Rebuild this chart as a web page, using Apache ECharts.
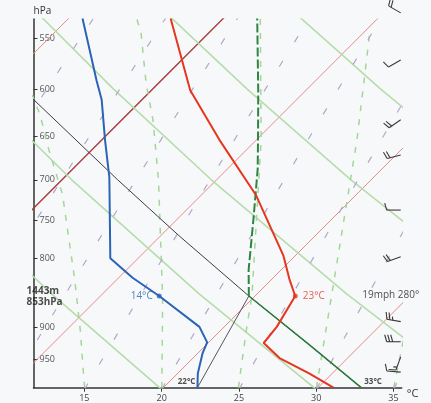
<!DOCTYPE html>
<html><head><meta charset="utf-8">
<script src="https://cdn.jsdelivr.net/npm/echarts@6/dist/echarts.min.js"></script>
<style>html,body{margin:0;padding:0;background:#fff}#c{width:431px;height:403px}</style>
</head><body><div id="c"></div>
<script>
// ---------- data (temperatures in °C, pressures in hPa) ----------
const tempTicks = [15, 20, 25, 30, 35];
const presTicks = [550, 600, 650, 700, 750, 800, 900, 950];

const tempP = [532, 601, 654, 718, 796, 830, 853, 899, 924, 948, 973, 997];
const tempT = [-3.4, 2.5, 7.6, 13.5, 19.2, 21.2, 22.6, 23.4, 23.6, 25.6, 28.5, 31.0];

const dewP = [532, 591, 611, 654, 697, 800, 827, 853, 899, 923, 940, 973, 997];
const dewT = [-9.1, -4.2, -2.6, 0.2, 2.9, 8.2, 10.9, 13.8, 18.4, 19.9, 20.3, 21.3, 22.2];

const isoT = [-10, 0, 10, 20, 30];
const refP = [1000, 850, 700, 600, 530];
const dryT = [
  [20, 6.7, -8.4, -19.8, -28.6],
  [30, 16.25, 0.63, -11.17, -20.29],
  [40, 25.79, 9.66, -2.52, -11.95],
  [50, 35.34, 18.69, 6.12, -3.61],
  [60, 44.88, 27.72, 14.76, 4.74]
];
const mixTd = [
  [0, -2.22, -4.82, -6.84, -8.45],
  [5, 2.69, -0.02, -2.12, -3.79],
  [10, 7.60, 4.78, 2.59, 0.86],
  [15, 12.50, 9.58, 7.30, 5.50],
  [20, 17.40, 14.37, 12.01, 10.14],
  [25, 22.30, 19.15, 16.71, 14.77],
  [30, 27.20, 23.94, 21.40, 19.39],
  [35, 32.10, 28.72, 26.09, 24.01]
];
const moist15P = [997, 904, 830, 718, 665, 627, 606];
const moist15T = [14.9, 10.9, 7.3, 1.0, -2.8, -5.6, -7.4];
const moist20P = [997, 857, 701, 632, 594, 545, 532];
const moist20T = [19.9, 14.2, 6.3, 2.0, -0.8, -4.4, -5.6];
const moist25P = [997, 900, 853, 750, 654, 532];
const moist25T = [24.85, 21.5, 19.8, 15.2, 10.3, 2.4];
const moist30P = [997, 849, 654, 545];
const moist30T = [29.9, 24.8, 16.5, 10.4];
const moist35P = [997, 900, 800];
const moist35T = [34.9, 31.8, 28.3];

const parcelAdiabatP = [997, 925, 853, 770, 700, 600];
const parcelAdiabatT = [32.8, 26.5, 19.6, 11.2, 3.6, -8.4];
const parcelDryP = [997, 925, 853];
const parcelDryT = [32.8, 26.5, 19.6];
const parcelMoistP = [853, 816, 750, 688, 654, 601, 532];
const parcelMoistT = [19.6, 17.9, 15.0, 12.0, 10.1, 6.9, 2.2];
const dewMixP = [997, 853];
const dewMixT = [22.2, 19.6];

const lclP = 853, lclHeight = 1443;
const surfaceWindSpeed = 19, surfaceWindDir = 280;

const windP = [527, 571, 632, 671, 737, 798, 891, 922, 946, 971];
const windDir = [300, 240, 235, 255, 270, 250, 280, 270, 200, 275];
const windSpd = [20, 10, 20, 20, 10, 20, 25, 30, 15, 10];

// ---------- skew-T mapping ----------
const K = 38;                 // skew (°C per unit of ln p)
const X_MIN = 11.71, X_MAX = 35.53;
const P_TOP = 532.5, P_BOT = 997;
const FONT = 'Open Sans';
function sx(T, p) { return T + K * Math.log(1000 / p); }
function pts(Ts, Ps) { return Ts.map((t, i) => [sx(t, Ps[i]), Ps[i]]); }
function ln(data, color, width, type, z) {
  return { type: 'line', data, symbol: 'none', showSymbol: false, silent: true, clip: true,
    animation: false, z: z || 2, lineStyle: { color, width, type: type || 'solid', cap: 'butt' } };
}
function valAt(Ts, Ps, p) { return Ts[Ps.indexOf(p)]; }

const series = [];
isoT.forEach(T => series.push(ln(pts([T, T], [1000, 520]), T === 0 ? '#a63a36' : '#e58a84', T === 0 ? 1.4 : 1, 'solid', 1)));
dryT.forEach(row => series.push(ln(pts(row, refP), '#b7dcac', 1.6, 'solid', 1)));
[[moist15T, moist15P], [moist20T, moist20P], [moist25T, moist25P], [moist30T, moist30P], [moist35T, moist35P]]
  .forEach(([T, P]) => series.push(ln(pts(T, P), '#a3d699', 1.5, [6, 8], 1)));
mixTd.forEach(row => series.push(ln(pts(row, refP), '#b3a6c8', 1.2, [7, 22], 1)));
series.push(ln(pts(parcelAdiabatT, parcelAdiabatP), '#3c3c3c', 1, 'solid', 3));
series.push(ln(pts(dewMixT, dewMixP), '#555555', 1, 'solid', 3));
series.push(ln(pts(parcelDryT, parcelDryP), '#2d7a3a', 1.5, 'solid', 4));
series.push(ln(pts(parcelMoistT, parcelMoistP), '#2e8540', 2, [9, 3], 4));
series.push(ln(pts(tempT, tempP), '#e5371f', 2, 'solid', 5));
series.push(ln(pts(dewT, dewP), '#2a64b4', 2, 'solid', 5));

const tLcl = valAt(tempT, tempP, lclP), dLcl = valAt(dewT, dewP, lclP);
series.push({
  type: 'scatter', silent: true, animation: false, z: 6, symbolSize: 5,
  data: [
    { value: [sx(dLcl, lclP), lclP], itemStyle: { color: '#2a64b4' },
      label: { show: true, position: 'left', distance: 4, formatter: Math.round(dLcl) + '°C', color: '#2a64b4' } },
    { value: [sx(tLcl, lclP), lclP], itemStyle: { color: '#e5371f' },
      label: { show: true, position: 'right', distance: 5, formatter: Math.round(tLcl) + '°C', color: '#e5371f' } }
  ],
  label: { fontFamily: FONT, fontSize: 10 }
});
const dSurf = dewT[dewT.length - 1], pSurf = dewP[dewP.length - 1];
const tParcel = parcelDryT[0];
series.push({
  type: 'scatter', silent: true, animation: false, z: 7, symbolSize: 0, clip: false,
  data: [
    { value: [X_MIN, lclP], label: { show: true, position: 'inside', align: 'left', offset: [-7, 0.5],
        formatter: lclHeight + 'm\n' + lclP + 'hPa', fontWeight: 'bold', fontSize: 10, lineHeight: 11, color: '#222' } },
    { value: [X_MAX, lclP], label: { show: true, position: 'inside', align: 'center', offset: [-11, -1],
        formatter: surfaceWindSpeed + 'mph ' + surfaceWindDir + '°', fontSize: 10, color: '#222' } },
    { value: [sx(dSurf, pSurf), pSurf], label: { show: true, position: 'inside', align: 'right', offset: [-2, -6],
        formatter: Math.round(dSurf) + '°C', fontSize: 8, fontWeight: 'bold', color: '#222' } },
    { value: [sx(tParcel, pSurf), pSurf], label: { show: true, position: 'inside', align: 'left', offset: [3, -6],
        formatter: Math.round(tParcel) + '°C', fontSize: 8, fontWeight: 'bold', color: '#222' } }
  ],
  label: { fontFamily: FONT }
});

// wind barbs
series.push({
  type: 'custom', silent: true, animation: false, clip: false, z: 6,
  data: windP.map((p, i) => [X_MAX, p, windDir[i], windSpd[i]]),
  encode: { x: 0, y: 1 },
  renderItem(params, api) {
    const c = api.coord([api.value(0), api.value(1)]);
    const d = api.value(2) * Math.PI / 180, s = api.value(3);
    const x0 = c[0] - 1, y0 = c[1];
    const L = 14, F = 7, G = 3;
    const ux = Math.sin(d), uy = -Math.cos(d);
    const vx = -uy, vy = ux;
    const ex = x0 + L * ux, ey = y0 + L * uy;
    const st = { stroke: '#3a3a3a', lineWidth: 1.1, fill: null };
    const kids = [{ type: 'line', shape: { x1: x0, y1: y0, x2: ex, y2: ey }, style: st }];
    let rem = Math.round(s / 5) * 5, k = 0;
    while (rem >= 10) {
      const bx = ex - k * G * ux, by = ey - k * G * uy;
      kids.push({ type: 'line', shape: { x1: bx, y1: by, x2: bx + F * vx + 2 * ux, y2: by + F * vy + 2 * uy }, style: st });
      rem -= 10; k++;
    }
    if (rem >= 5) {
      if (k === 0) k = 1;
      const bx = ex - k * G * ux, by = ey - k * G * uy;
      kids.push({ type: 'line', shape: { x1: bx, y1: by, x2: bx + F / 2 * vx + ux, y2: by + F / 2 * vy + uy }, style: st });
    }
    return { type: 'group', children: kids };
  }
});

const chart = echarts.init(document.getElementById('c'), null, { renderer: 'canvas' });
chart.setOption({
  animation: false,
  backgroundColor: '#f7f8fa',
  textStyle: { fontFamily: FONT },
  grid: { left: 33.5, right: 29.3, top: 19, bottom: 15.3, containLabel: false, outerBoundsMode: 'none' },
  xAxis: {
    type: 'value', min: X_MIN, max: X_MAX,
    name: '°C', nameLocation: 'end', nameGap: 5,
    nameTextStyle: { fontSize: 11, color: '#333', verticalAlign: 'top', padding: [1, 0, 0, 0], fontFamily: FONT },
    axisLine: { show: true, onZero: false, lineStyle: { color: '#333', width: 1.5 } },
    axisTick: { show: true, customValues: tempTicks, length: 4, lineStyle: { color: '#333', width: 1 } },
    axisLabel: { show: true, customValues: tempTicks, fontSize: 9, color: '#444', margin: 6, fontFamily: FONT },
    splitLine: { show: false }
  },
  yAxis: {
    type: 'log', inverse: true, min: P_TOP, max: P_BOT,
    name: 'hPa', nameLocation: 'start', nameGap: 3,
    nameTextStyle: { fontSize: 10, color: '#333', align: 'left', fontFamily: FONT },
    axisLine: { show: true, onZero: false, lineStyle: { color: '#333', width: 1.5 } },
    axisTick: { show: true, inside: true, customValues: presTicks, length: 4, lineStyle: { color: '#333', width: 1 } },
    axisLabel: { show: true, inside: true, customValues: presTicks, fontSize: 9, color: '#555', margin: 6, fontFamily: FONT },
    splitLine: { show: false }, minorSplitLine: { show: false }
  },
  series
});
</script>
</body></html>
